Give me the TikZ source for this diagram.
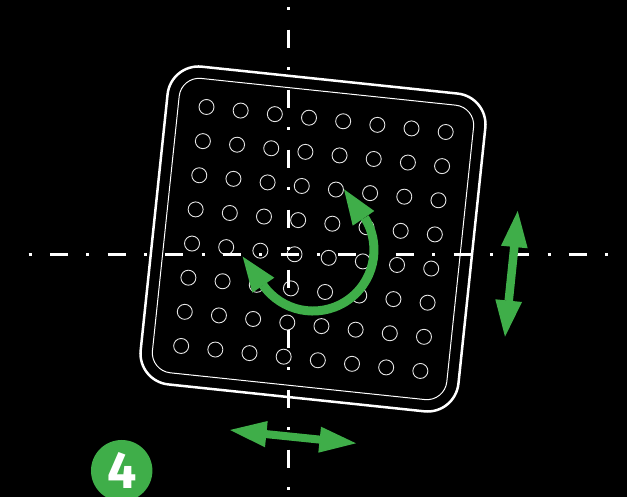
\documentclass[tikz,border=0pt]{standalone}
\usepackage{fontspec}
\setmainfont{Fira Sans}
\definecolor{grn}{HTML}{3FAE49}
\tikzset{
  outerplate/.style={draw=white,line width=2.5pt,rectangle,rounded corners=31pt,minimum size=319.5pt,rotate=-6,inner sep=0pt},
  innerplate/.style={draw=white,line width=1pt,rectangle,rounded corners=20pt,minimum size=296pt,rotate=-6,inner sep=0pt},
  hole/.style={draw=white!90!black,line width=0.9pt},
  axisline/.style={draw=white,line width=3pt},
  greenshaft/.style={draw=grn,line width=8pt},
  greenhead/.style={fill=grn},
}
\begin{document}
\begin{tikzpicture}[x=1pt,y=1pt]
\useasboundingbox (0,0) rectangle (627,497);
\fill[black] (0,0) rectangle (627,497);
% holes
\foreach \i in {0,...,7}{\foreach \j in {0,...,7}{
  \draw[hole] ({206.5+34.17*\i-3.62*\j},{497-(107+3.57*\i+34.14*\j)}) circle[radius=7.5];
}}
% plate
\node[outerplate] (outer) at (313,258) {};
\node[innerplate] (inner) at (313,258) {};
% axes
\coordinate (hstart) at (28.5,242.5);
\coordinate (hend) at (608,242.5);
\coordinate (vstart) at (288.5,489.5);
\coordinate (vend) at (288.5,7);
\draw[axisline,dash pattern=on 3pt off 18.33pt on 18pt off 18.34pt] (hstart) -- (hend);
\draw[axisline,dash pattern=on 3pt off 19.1pt on 18.8pt off 19.1pt] (vstart) -- (vend);
% rotation arrow
\draw[greenshaft,line width=9pt] (364.7,279.3) arc[start angle=32,end angle=-145,radius=61];
\begin{scope}[yshift=497pt,yscale=-1]
\fill[greenhead] (344,189.3) -- (374.3,211) -- (352.7,225.7) -- cycle;
\fill[greenhead] (242.7,256.7) -- (274.3,277.7) -- (252.3,292.7) -- cycle;
% right double arrow
\coordinate (ra) at (514.4,246);
\coordinate (rb) at (508.7,301);
\draw[greenshaft,line width=8.5pt] (ra) -- (rb);
\fill[greenhead] (517.7,211) -- (527.7,248.3) -- (501,245.7) -- cycle;
\fill[greenhead] (505,336.7) -- (495.3,299.3) -- (522,302) -- cycle;
% bottom double arrow
\coordinate (ba) at (265,434);
\coordinate (bb) at (320.5,439.7);
\draw[greenshaft] (ba) -- (bb);
\fill[greenhead] (230,430) -- (267.7,421) -- (265,447.3) -- cycle;
\fill[greenhead] (356,443.3) -- (321,426.7) -- (318.3,452.7) -- cycle;
\end{scope}
% badge
\node[circle,fill=grn,minimum size=61.4pt,inner sep=0pt,text=white,font=\fontsize{52}{52}\selectfont\bfseries] (badge) at (121.7,26.3) {4};
\end{tikzpicture}
\end{document}
